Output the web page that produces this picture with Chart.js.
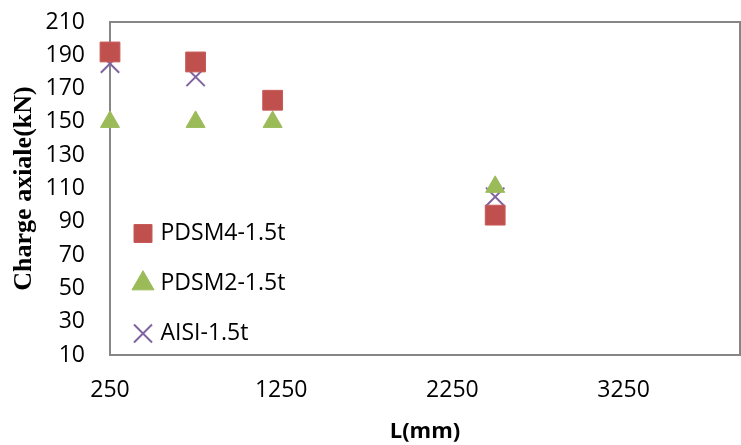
<!DOCTYPE html>
<html>
<head>
<meta charset="utf-8">
<script src="https://cdn.jsdelivr.net/npm/chart.js@4/dist/chart.umd.min.js"></script>
<style>
  html, body { margin: 0; padding: 0; background: #fff; }
</style>
</head>
<body>
<canvas id="c" width="741" height="445"></canvas>
<script>
// lengths (mm) and axial loads (kN)
const lengths = [250, 750, 1200, 2500]
const pdsm4 = [192, 186, 163, 94]
const pdsm2 = [150, 150, 150, 111]
const aisi = [185, 177, 163, 105]
const xTicks = [250, 1250, 2250, 3250]

const pts = ys => lengths.map((x, i) => ({x, y: ys[i]}))

// grey frame round the plot area, under the markers
const frame = {
  id: 'frame',
  beforeDatasetsDraw(chart){
    const {ctx, chartArea: a} = chart
    ctx.save()
    ctx.strokeStyle = '#868686'
    ctx.lineWidth = 2
    ctx.strokeRect(a.left, a.top, a.right - a.left, a.bottom - a.top)
    ctx.restore()
  }
}

// legend sits in the lower left of the plot, push it down a bit
const legendShift = {
  id: 'legendShift',
  afterLayout(chart){
    const l = chart.legend
    const d = 372 - l.bottom
    l.top += d
    l.bottom += d
  }
}

const tickFont = {family: "'Open Sans'", size: 23}

new Chart(document.getElementById('c'), {
  type: 'scatter',
  data: {
    datasets: [
      {label: 'PDSM4-1.5t', data: pts(pdsm4), pointStyle: 'rect', pointRadius: 14, pointHoverRadius: 14,
       backgroundColor: '#C0504D', borderColor: '#C75B58', borderWidth: 1, clip: false},
      {label: 'PDSM2-1.5t', data: pts(pdsm2), pointStyle: 'triangle', pointRadius: 11, pointHoverRadius: 11,
       backgroundColor: '#9BBB59', borderColor: '#9BBB59', borderWidth: 1, clip: false},
      {label: 'AISI-1.5t', data: pts(aisi), pointStyle: 'crossRot', pointRadius: 13, pointHoverRadius: 13,
       backgroundColor: '#8064A2', borderColor: '#8064A2', borderWidth: 2, clip: false}
    ]
  },
  options: {
    responsive: false,
    animation: false,
    devicePixelRatio: 1,
    layout: {autoPadding: false, padding: {left: 0, top: 22, right: 1, bottom: 0}},
    plugins: {
      tooltip: {enabled: false},
      legend: {
        position: 'chartArea',
        align: 'end',
        labels: {usePointStyle: true, boxWidth: 12, boxHeight: 18, padding: 27, color: '#000', font: tickFont}
      }
    },
    scales: {
      x: {
        type: 'linear', min: 250, max: 3930,
        afterBuildTicks: s => { s.ticks = xTicks.map(v => ({value: v})) },
        afterFit: s => { s.height = 90 },
        grid: {display: false},
        border: {display: false},
        ticks: {color: '#000', font: tickFont, padding: 14, maxRotation: 0, callback: v => String(v)},
        title: {display: true, text: 'L(mm)', color: '#000', padding: {top: 0, bottom: 0},
                font: {family: "'Open Sans'", size: 22, weight: 'bold'}}
      },
      y: {
        min: 10, max: 210,
        afterFit: s => { s.width = 110 },
        grid: {display: false, tickLength: 22},
        border: {display: false},
        ticks: {stepSize: 20, color: '#000', font: tickFont, padding: 3},
        title: {display: true, text: 'Charge axiale(kN)', color: '#000', padding: {top: 9, bottom: 0},
                font: {family: "'Liberation Serif'", size: 26, weight: 'bold'}}
      }
    }
  },
  plugins: [frame, legendShift]
})
</script>
</body>
</html>
